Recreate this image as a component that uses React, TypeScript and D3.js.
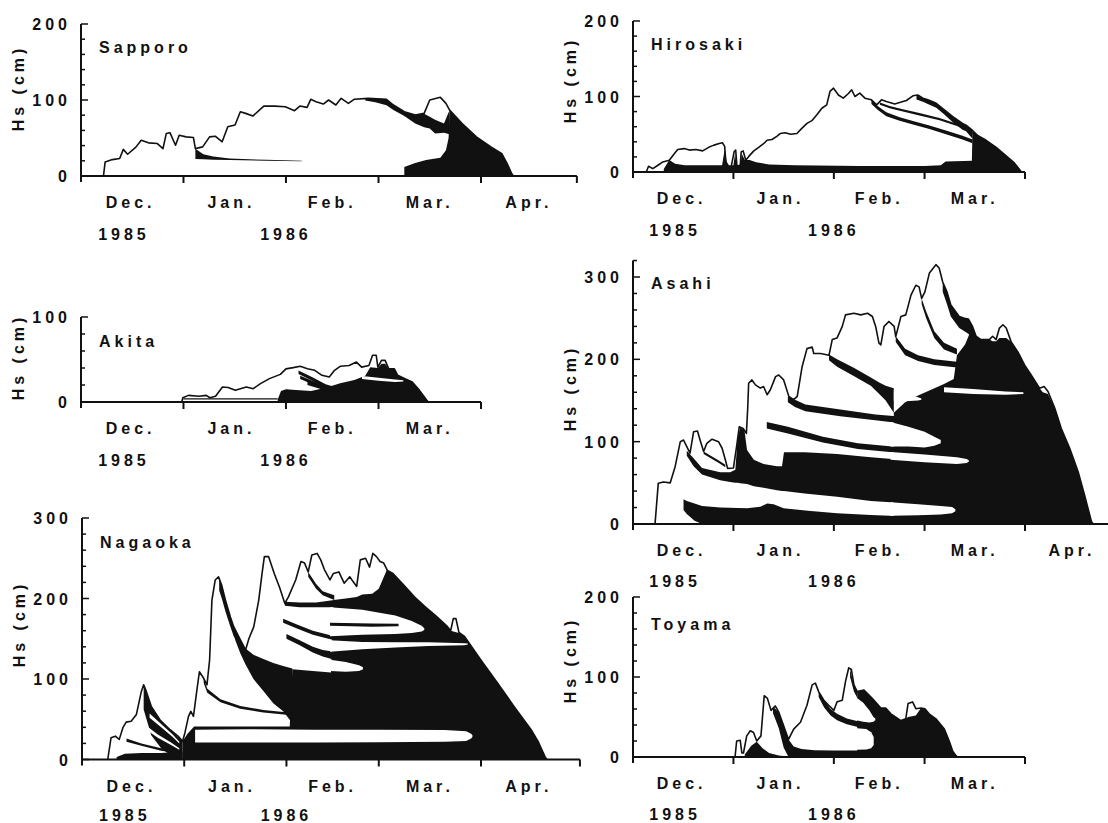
import React from 'react';
import * as d3 from 'd3';

type Pt = [number, number];
type Band = [number, number, number];

// day 0 = 1 Dec 1985, values are snow depth Hs in cm

// ---------- Sapporo ----------
const sapporoDepth: Pt[] = [[6.8,0],[7.3,18.5],[9.5,21.6],[11.7,23],[12.8,35],[14.1,28.6],[16.6,38],[18.2,47],[20.4,43.6],[23.1,42.7],[24.8,36],[25.8,56],[26.9,57],[28.6,40.5],[29.7,53.7],[31.8,51.5],[34,50.7],[34.6,36],[36.8,38.3],[38.9,51.5],[40.6,52.4],[42.7,45],[44.4,64.8],[46.6,67],[48.2,84.6],[49.8,82.4],[52,78.9],[55.3,92],[58.6,92],[61.8,91.2],[64.6,86],[66.2,92],[68.4,90.3],[69.5,100.9],[71.1,97.8],[73.3,94.7],[74.9,100],[77.1,93.4],[78.7,102.2],[80.9,95.6],[82.6,100.9],[86.9,102.2],[92.4,100.9],[94.5,93.4],[97.8,84.6],[101.1,80.2],[103.8,82.4],[105.5,100],[108.7,103.5],[110.4,95.6],[111.5,86.8],[115.3,69],[119.6,51.5],[124,38.3],[127.3,29.5],[128.9,16.3],[130.3,3],[130.8,0]];
const sapporoWedge: Band[] = [[34.6,22.5,36],[37,22,28.5],[40,21.5,25.5],[45,21,23],[56,20,21.3],[66.8,19.5,20]];
const sapporoUpper: Band[] = [[86,99.5,102.2],[89,97,101.5],[92.4,93,100.9],[94.5,87,93.4],[97.8,79,84.6],[101.1,69,80.2],[103.8,64,82],[105.5,62.6,78],[107.1,56,74],[109.8,57,69],[111.5,55,86.8]];
const sapporoMelt: Band[] = [[97.8,0,12],[101.1,0,17],[104.4,0,21],[108.7,0,24],[110.4,0,34],[111.2,0,50],[111.5,0,86.8],[115.3,0,69],[119.6,0,51.5],[124,0,38.3],[127.3,0,29.5],[128.9,0,16.3],[130.3,0,3],[130.8,0,0]];

// ---------- Hirosaki ----------
const hirosakiDepth: Pt[] = [[4.1,0],[4.8,7.6],[6.1,4.4],[7.7,8.9],[9.2,13.3],[11.2,15.6],[12.8,24.4],[13.8,29.8],[15.8,31],[17.4,29],[19.4,29.8],[21.5,28],[23.5,33],[25,35.6],[26.6,37.8],[27.6,38.7],[28.3,34],[28.7,11],[29.3,2],[30.2,4.4],[31.2,26.7],[31.7,29],[32.2,2],[33,3],[33.4,26.7],[34,28],[34.8,15.6],[35.8,21],[37.3,28],[38.9,33],[40.4,37.8],[41.4,42],[42.9,43],[44.5,47.6],[45.5,51],[47,52],[48.6,50],[50.6,51],[52.1,57.8],[53.7,64.4],[55.2,68],[56.7,75.6],[58.3,84.4],[59.8,88.9],[60.8,106.7],[61.9,111],[63.4,102],[64.9,97.8],[66.5,104],[67.5,108.9],[68.5,100],[70,104.4],[71.6,97.8],[73.6,95.6],[75.2,88.9],[76.7,95.6],[78.2,93.3],[80.8,90.2],[82.3,92],[84.4,94.7],[86.4,100.9],[87.9,102],[89.5,97.8],[91,95.6],[93.6,91],[96.1,82.2],[98.7,73.3],[101.7,64.4],[102.8,62],[104.8,55],[106.5,48],[109,42],[112,33],[115,22],[117.7,12],[119.9,0]];
const hirosakiBase: Band[] = [[9.5,0,4],[11.2,0,16],[13,0,11],[16,0,9],[27.5,0,9],[28.3,0,30],[28.9,0,14],[29.6,0,9],[31,0,9],[31.5,0,25],[32,0,9],[33.2,0,10],[33.6,0,24],[34.5,0,16],[36,0,16],[38,0,13],[42,0,10],[50,0,9],[70,0,8],[90,0,8],[95,0,9],[96.5,0,14],[104.8,0,15]];
const hirosakiMelt: Band[] = [[104.6,0,15],[104.8,0,55],[106.5,0,48],[109,0,42],[112,0,33],[115,0,22],[117.7,0,12],[119.9,0,0]];
const hirosakiTopBand: Band[] = [[87.5,96,102],[89.5,93,97.8],[91,90,95.6],[93.6,85,91],[96.1,76,82.2],[98.7,66,73.3],[101.7,56,64.4],[102.8,54,62],[104.8,44,55]];
const hirosakiLineA: Band[] = [[73.6,90,95.6],[75.6,82,87],[78.2,74,79],[82.3,68,72.5],[86.4,63,67.5],[91.5,57,61.5],[96.6,50,55],[101.7,43,48],[104.8,38,43]];
const hirosakiLineB: Band[] = [[76.2,89,92],[79.2,84.5,87.5],[83.3,80,83],[88.4,75,78],[94.6,68.5,71.5],[100.7,60,63],[104.8,50,53]];

// ---------- Akita ----------
const akitaDepth: Pt[] = [[30.5,0],[30.8,5],[32.5,7.8],[35.7,6.7],[37.9,7.8],[39,5],[40.7,6.7],[42.8,17.6],[44.5,17],[46.7,13.7],[50,17.6],[52.1,15.7],[54.3,21.6],[57,27.5],[60.3,32.5],[62,39],[64.2,40.4],[66.3,42],[68.5,39.2],[70.7,37.3],[72.9,31.4],[75.1,29.4],[76.7,37.3],[78.4,42],[81.1,43],[83.3,47],[84.9,41],[87.1,43],[88.2,55],[89.3,55],[89.8,41],[90.9,49],[92,49],[93.1,39],[94.8,39],[95.8,31.4],[98,27.5],[100.2,23.5],[102.4,13.7],[104.6,2],[105.1,0]];
const akitaMass: Band[] = [[59.5,0,3],[60.5,0,13],[62,0,15],[65,0,14],[69.6,0,13],[73,0,16],[75,0,18],[78.4,0,22],[82.7,0,26],[86,0,31],[87.5,0,41],[89.8,0,40],[90.9,0,45],[92,0,45],[93.1,0,39],[94.8,0,39],[95.8,0,31.4],[98,0,27.5],[100.2,0,23.5],[102.4,0,13.7],[104.6,0,2],[105.1,0,0]];
const akitaFinger: Band[] = [[85,27,30.5],[90,25,28.5],[95,23.5,26.5],[97.5,24,25.5]];
const akitaLine1: Band[] = [[65.8,33,37],[70,25,29],[74,17,21],[78.4,12,16]];
const akitaLine2: Band[] = [[66.3,27,31],[70,21,25],[74,15,19],[77.8,10,14]];
const akitaLine3: Band[] = [[68.5,20,24],[72,16,20],[75,12,16],[77.3,9,13]];
const akitaGround: Band[] = [[31,3,4.5],[59.5,3,4.5]];

// ---------- Asahi ----------
const asahiDepth: Pt[] = [[6.8,0],[7.8,49.4],[9.4,51],[11.5,50],[13,69.6],[14.6,100],[15.6,102],[16.6,94],[17.6,86],[18.7,112],[19.9,113],[20.7,102],[21.8,88],[22.8,98],[24.4,103],[26.4,100],[27.5,92],[28.5,78],[29.2,67.6],[31,68],[32,95],[32.8,118],[34,116],[35,110],[35.4,140],[35.7,171],[36.7,175],[37.8,169],[39.3,165],[40.3,167],[41.4,157],[42.4,163],[44,179],[45,181],[46.5,175],[48.1,155],[49.6,151],[50.7,155],[52.2,191],[53.7,213],[55.3,215],[55.8,207],[57.9,207],[60.5,205],[61.5,224],[63,226],[64.6,240],[65.6,254],[68.2,256],[70.3,254],[72.4,256],[73.9,252],[74.9,240],[75.9,220],[76.5,217.5],[77.5,240],[79,246],[80.6,240],[81.1,227.6],[82.7,252],[84.2,254],[85.8,278],[87.3,290],[88.3,288],[89.1,274],[90.1,282],[91.5,305],[93.5,315],[94.5,311],[95.6,294],[96.9,282],[98.1,266],[100.7,252],[102.3,250],[103.5,249],[104.8,240],[105.9,228],[107.4,224],[110,224],[111,228],[112.1,224],[113.1,238],[114.2,242],[115.2,238],[116.7,221.5],[118.8,209],[120.9,193],[122.9,181],[125.5,165],[126.9,167],[128.1,161],[130.2,140.6],[132.2,116],[134.8,92],[137.4,63.5],[139.4,35],[141.5,3],[142,0]];
const asahiBottom: Band[] = [[15.6,17,30],[16.6,12,28],[19,4,25],[21.3,0,22],[27,0,20],[35.2,0,19],[39.3,0,21],[41.4,0,25],[43.4,0,24],[46.5,0,19],[54,0,16],[63,0,13],[73.4,0,11],[85,0,9],[100,0,8]];
const asahiBand2: Band[] = [[16.6,83,89],[18.7,70,80],[21.3,60,68],[26.9,53,63],[30,51,63],[31.6,50,66],[32.3,50,105],[33.1,49.5,117],[34.4,49,114],[35.2,48.5,90],[37.3,46,78],[40.3,44,73],[44.4,41,70],[46,40,70],[46.6,40,87],[53,37,87],[63,33,85],[73.4,28,81],[85.6,25,77],[99.2,21,73],[103,21,72]];
const asahiBubble: Band[] = [[21.8,85,88],[24,80,83],[26.5,74,77],[28.5,69,72]];
const asahiLine2: Band[] = [[41.3,116,124],[47.8,110,118],[58.6,99,106],[69.4,91,98],[80,87,94],[90,84,91]];
const asahiLineJan: Band[] = [[47.8,148,155],[50,142,151],[53.2,137,145],[64,131,139],[74.8,126,133],[81.3,123,131]];
const asahiLineFebA: Band[] = [[60.5,199,206],[63,191,200],[68,180,190],[73.4,168,178],[76,158,172],[78,150,168],[80.5,135,165]];
const asahiLineFebB: Band[] = [[81.1,221,228],[84,205,213],[88,198,205],[93,193,200],[100,190,197]];
const asahiLineMar: Band[] = [[89.1,267,274],[90.5,250,258],[93,226,234],[96,212,220],[100,206,213]];
const asahiFlank: Band[] = [[95.6,282,294],[97,266,282],[98.1,252,266],[100.7,238,252],[102.3,234,250],[103.5,231,249],[104.8,225,240]];
const asahiMass: Band[] = [[80.5,0,135],[84,0,148],[88,0,156],[92,0,163],[96,0,170],[99,0,176],[100,0,205],[102.5,0,218],[104.8,0,240],[105.9,0,228],[107.4,0,224],[110,0,224],[111,0,222],[112.1,0,222],[113.1,0,226],[115.2,0,226],[116.7,0,221.5],[118.8,0,209],[120.9,0,193],[122.9,0,181],[125.5,0,165],[126.5,0,160],[128.1,0,158],[130.2,0,140.6],[132.2,0,116],[134.8,0,92],[137.4,0,63.5],[139.4,0,35],[141.5,0,3],[142,0,0]];
const asahiF1: Band[] = [[79.5,10,26.5],[88,10.5,24],[95,11.5,22],[98.5,13,20.5],[99.5,15.5,18]];
const asahiF2: Band[] = [[79.5,78,87.5],[90,75,84.5],[100,73,81],[103,74,79],[103.7,76,77]];
const asahiF3: Band[] = [[79.5,94,124],[85,94,118],[90,93,112],[93,95,106],[95,98,102]];
const asahiF4: Band[] = [[80.5,150,162],[84,149,158],[88,150,154],[89,151,152.5]];
const asahiF5: Band[] = [[96,160,166],[105,158,164],[115,157,161],[120.5,158,160]];

// ---------- Nagaoka ----------
const nagaokaDepth: Pt[] = [[7.8,0],[8.8,26.9],[10.1,29],[11.3,25],[12.4,39.5],[13.4,46.4],[14.9,47.6],[16.5,56],[18,84.6],[18.7,92.8],[19.5,84.6],[21,66],[23.6,49.4],[26.7,37],[29.2,28.7],[30.5,22.6],[31.2,33],[32.3,53.6],[33,59.8],[33.8,53.6],[34.8,85],[35.6,109],[36.9,100.9],[37.9,92.8],[38.7,123.8],[39.4,198],[40.4,223],[41.4,227],[42.4,216],[43.5,198],[45,177],[46,165],[48.1,148],[49.6,136],[50.6,150],[52.1,165],[53.6,198],[54.6,231],[55.3,252],[56.6,252],[58.3,231],[59.9,214],[61.5,194],[62.6,202],[64.8,223],[66.4,246],[67.5,244],[68.6,233],[69.7,254],[71.3,256],[72.4,248],[73.5,236],[75.2,223],[76.2,231],[77.9,233],[79.5,219],[81.2,227],[82.2,221],[83.3,215],[84.4,248],[86,250],[87.2,239],[88.2,256],[89.3,252],[90.4,246],[91.5,244],[92.6,235],[94.3,231],[97.5,217],[100.8,202],[104,190],[107.4,178],[110.6,166],[111.8,160],[112.6,175],[113.4,175],[114.3,158],[116,153],[120.9,124],[126,95],[131,66],[136.2,37],[138.3,22.6],[140.4,3.5],[141,0]];
const nagaokaDecWedge: Band[] = [[18.7,62,92.8],[21,30,66],[24,14,48],[27,5,36],[30.5,0,22.6]];
const nagaokaDecWhite1: Band[] = [[20.5,52,57],[24,40,44],[27.5,28,31],[29.5,20,22]];
const nagaokaDecWhite2: Band[] = [[19.5,37,42],[23,27,31],[27,18,21],[29.5,12,14]];
const nagaokaDecLine: Band[] = [[13.5,22,26],[18,17,20],[24,11,14],[30,7,10]];
const nagaokaDecBase: Band[] = [[10.5,0,3],[13,0,7],[18,0,8],[24,0,8],[30.5,0,10]];
const nagaokaMass: Band[] = [[30.5,0,22.6],[32,0,32],[34,0,41],[63,0,41],[63.8,0,112],[70,0,110],[75.5,0,108],[76.3,0,198],[80,0,200],[83.3,0,202],[85,0,205],[88,0,206],[90,0,212],[92.4,0,235],[94.3,0,231],[97.5,0,217],[100.8,0,202],[104,0,190],[107.4,0,178],[110.6,0,166],[111.8,0,160],[114.3,0,157],[116,0,153],[120.9,0,124],[126,0,95],[131,0,66],[136.2,0,37],[138.3,0,22.6],[140.4,0,3.5],[141,0,0]];
const nagaokaFlank: Band[] = [[41.6,210,226],[42.4,200,216],[43.5,184,198],[45,165,177],[46,153,165],[47,145,158]];
const nagaokaJanBlack: Band[] = [[46.5,148,160],[48,132,150],[49.6,118,138],[52,100,130],[55,85,125],[58,70,120],[61,60,116],[63.8,45,113]];
const nagaokaThin: Band[] = [[36.9,95,101],[38,83,88],[42,71,75],[48,63,66.5],[55,58.5,61.5],[63.5,55,58]];
const nagaokaFan1: Band[] = [[62,150,156],[66,142,148],[70,133,140],[73,128,136],[76.5,124,134]];
const nagaokaFan2: Band[] = [[61,170,175],[65,163,168],[70,155,160],[76.5,148,153]];
const nagaokaFan3: Band[] = [[61.5,191,196],[66,189,195],[71,189,195],[76.5,189,198]];
const nagaokaFan4: Band[] = [[68.6,227,233],[71,212,218],[73,204,209],[76.5,198,204]];
const nagaokaW1: Band[] = [[34.3,21,37],[50,21,37.5],[70,21,37],[90,21.5,37],[110,22,36.5],[116.5,23,35],[118,26,32],[118.4,28,30]];
const nagaokaF3: Band[] = [[75.2,110,124],[80,109,121],[84,110,117],[85.2,112,114.5]];
const nagaokaF4: Band[] = [[75.2,134,148],[85,137,146],[95,139,145.5],[105,141,145.5],[116,142,144.5],[117,143,144]];
const nagaokaF5: Band[] = [[75.2,153,189],[85,155,186],[95,156,179],[100,157,172],[103,159,166],[103.8,161,163]];
const nagaokaInner: Band[] = [[75.2,166,170],[88,165,169],[96,165.5,168.5]];

// ---------- Toyama ----------
const toyamaDepth: Pt[] = [[31.5,0],[32,20],[33.1,20.9],[33.6,5],[34.1,5],[35.1,26.4],[36.2,32.8],[37.2,30.6],[38.2,20],[39.5,26.4],[40.5,76.6],[41.5,73.2],[42.6,58.3],[43.9,63.8],[45,56],[46.5,39],[48,22],[49.6,34.9],[51.7,43.4],[53.7,64.7],[55.3,90.2],[56.3,92.3],[57.3,81.7],[58.9,71],[60.4,64.7],[62,58.3],[63,69],[64.6,71],[65.6,94.5],[66.6,111.5],[67.4,109.4],[68.2,90.2],[69.2,81.7],[71.3,83.8],[73.9,73.2],[76.5,61.3],[78,61.3],[79.6,54],[82.7,45.5],[84.2,47.7],[84.9,66.8],[86.3,68.9],[87.3,60.4],[88.9,61.3],[90.1,60.4],[91.4,54],[93.5,47.7],[96.1,34.9],[97.6,20],[98.7,7.2],[99.7,1.7],[100.2,0]];
const toyamaBase: Band[] = [[34.5,0,3],[36.5,0,14],[38.2,0,19],[40,0,11],[42,0,5],[45,0,2],[47,0,1]];
const toyamaFlankA: Band[] = [[43.2,55,63],[45,36,56],[46.5,12,39],[48,0,22],[49.6,0,13],[52,0,10],[56,0,8.5],[62,0,8],[70,0,8],[76,0,9],[80,0,10]];
const toyamaFlankB: Band[] = [[57.3,75,82],[59,62,71],[61,52,60],[63,46,54],[66,41,48],[70,37,44],[74,35,42],[77,34,46]];
const toyamaFlankC: Band[] = [[67,100,110],[68.2,82,90],[69.2,74,81.7]];
const toyamaMass: Band[] = [[69.2,0,81.7],[71.3,0,83.8],[73.9,0,73.2],[76.5,0,61.3],[78,0,61.3],[79.6,0,54],[82.7,0,45.5],[84.2,0,47.7],[84.9,0,50],[87.3,0,52],[88.9,0,61.3],[90.1,0,60.4],[91.4,0,54],[93.5,0,47.7],[96.1,0,34.9],[97.6,0,20],[98.7,0,7.2],[99.7,0,1.7],[100.2,0,0]];
const toyamaW1: Band[] = [[69,9,36],[72,9.5,35],[73.5,11,31],[74.3,15,25]];
const toyamaW2: Band[] = [[69,46,74],[71,44,68],[73,43,58],[74.2,44,50],[74.8,46,48]];

// axis labels
const monthStarts = [0, 31, 62, 90, 121];
const monthNames = ['Dec.', 'Jan.', 'Feb.', 'Mar.', 'Apr.'];
const monthMids = [15, 45.5, 76, 105.5, 135.5];
const yearNames = ['1985', '1986'];
const yearDays = [13, 62];

const FONT = '"Liberation Sans", Arial, Helvetica, sans-serif';
const BLACK = '#111';
const K = 'k';
const W = 'w';

const panels = [
  {name: 'Sapporo', x0: 81, xApr: 481, endDay: 150, endTick: true, y0: 176, yTop: 24, yMax: 200, axisTop: 200, months: 5, nameY: 53, hsY: 88, yearDy: 64,
    depth: sapporoDepth, layers: [[sapporoWedge, K], [sapporoUpper, K], [sapporoMelt, K]]},
  {name: 'Hirosaki', x0: 633, xApr: 1025, endDay: 121, endTick: true, y0: 172, yTop: 21, yMax: 200, axisTop: 200, months: 4, nameY: 50, hsY: 80, yearDy: 64,
    depth: hirosakiDepth, layers: [[hirosakiBase, K], [hirosakiMelt, K], [hirosakiTopBand, K], [hirosakiLineA, K], [hirosakiLineB, K]]},
  {name: 'Akita', x0: 81, xApr: 481, endDay: 121, endTick: true, y0: 402, yTop: 317, yMax: 100, axisTop: 100, months: 4, nameY: 347, hsY: 357, yearDy: 64,
    depth: akitaDepth, layers: [[akitaMass, K], [akitaFinger, W], [akitaLine1, K], [akitaLine2, K], [akitaLine3, K], [akitaGround, K]]},
  {name: 'Asahi', x0: 633, xApr: 1025, endDay: 147, endTick: false, y0: 524, yTop: 277, yMax: 300, axisTop: 320, months: 5, nameY: 289, hsY: 388, yearDy: 63,
    depth: asahiDepth, layers: [[asahiBottom, K], [asahiBand2, K], [asahiBubble, K], [asahiLine2, K], [asahiLineJan, K], [asahiLineFebA, K], [asahiLineFebB, K], [asahiLineMar, K], [asahiFlank, K], [asahiMass, K],
      [asahiF1, W], [asahiF2, W], [asahiF3, W], [asahiF4, W], [asahiF5, W]]},
  {name: 'Nagaoka', x0: 82, xApr: 481, endDay: 151, endTick: true, y0: 759.5, yTop: 518, yMax: 300, axisTop: 300, months: 5, nameY: 548, hsY: 624, yearDy: 61,
    depth: nagaokaDepth, layers: [[nagaokaDecBase, K], [nagaokaDecWedge, K], [nagaokaDecWhite1, W], [nagaokaDecWhite2, W], [nagaokaDecLine, K], [nagaokaMass, K], [nagaokaFlank, K], [nagaokaJanBlack, K], [nagaokaThin, K],
      [nagaokaFan1, K], [nagaokaFan2, K], [nagaokaFan3, K], [nagaokaFan4, K], [nagaokaW1, W], [nagaokaF3, W], [nagaokaF4, W], [nagaokaF5, W], [nagaokaInner, K]]},
  {name: 'Toyama', x0: 633, xApr: 1025, endDay: 121, endTick: true, y0: 757, yTop: 597, yMax: 200, axisTop: 200, months: 4, nameY: 630, hsY: 660, yearDy: 63,
    depth: toyamaDepth, layers: [[toyamaBase, K], [toyamaFlankA, K], [toyamaFlankB, K], [toyamaFlankC, K], [toyamaMass, K], [toyamaW1, W], [toyamaW2, W]]},
];

const textStyle = {fontFamily: FONT, fontWeight: 700, fontSize: 16, letterSpacing: 4, fill: BLACK};

const Panel = ({p}) => {
  const x = d3.scaleLinear().domain([0, 121]).range([p.x0, p.xApr]);
  const y = d3.scaleLinear().domain([0, p.yMax]).range([p.y0, p.yTop]);
  const under = d3.area<Pt>().x(d => x(d[0])).y0(y(0)).y1(d => y(d[1]));
  const top = d3.line<Pt>().x(d => x(d[0])).y(d => y(d[1]));
  const band = d3.area<Band>().x(d => x(d[0])).y0(d => y(d[1])).y1(d => y(d[2]));
  const yTicks = d3.range(0, p.axisTop + 1, 20);
  const xTicks = monthStarts.filter(d => d > 0 && d <= p.endDay);
  if (p.endTick && p.endDay > 121) xTicks.push(p.endDay);

  return (
    <g>
      <path d={under(p.depth)} fill="#fff" />
      {p.layers.map(([data, c], i) => (
        <path key={i} d={band(data)} fill={c === K ? BLACK : '#fff'} />
      ))}
      <path d={top(p.depth)} fill="none" stroke={BLACK} strokeWidth={1.6} strokeLinejoin="round" />

      {/* axes */}
      <line x1={x(0)} x2={x(p.endDay)} y1={y(0)} y2={y(0)} stroke={BLACK} strokeWidth={2} />
      <line x1={x(0)} x2={x(0)} y1={y(p.axisTop)} y2={y(0) + 6} stroke={BLACK} strokeWidth={2} />
      {xTicks.map(t => (
        <line key={t} x1={x(t)} x2={x(t)} y1={y(0)} y2={y(0) + 7} stroke={BLACK} strokeWidth={2} />
      ))}
      {yTicks.map(t => (
        <line key={t} x1={x(0)} x2={x(0) + (t % 100 === 0 ? 7 : 4)} y1={y(t)} y2={y(t)} stroke={BLACK} strokeWidth={1.5} />
      ))}
      {yTicks.filter(t => t % 100 === 0).map(t => (
        <text key={t} x={p.x0 - 10} y={y(t) + 6} textAnchor="end" style={textStyle}>{t}</text>
      ))}

      {monthNames.slice(0, p.months).map((m, i) => (
        <text key={m} x={x(monthMids[i])} y={p.y0 + 32} textAnchor="middle" style={textStyle}>{m}</text>
      ))}
      {yearNames.map((t, i) => (
        <text key={t} x={x(yearDays[i])} y={p.y0 + p.yearDy} textAnchor="middle" style={textStyle}>{t}</text>
      ))}

      <text x={p.x0 + 18} y={p.nameY} style={textStyle}>{p.name}</text>
      <text transform={`translate(${p.x0 - 57},${p.hsY}) rotate(-90)`} textAnchor="middle" style={textStyle}>Hs (cm)</text>
    </g>
  );
};

const App = () => (
  <svg width={1108} height={823} style={{position: 'absolute', left: 0, top: 0, background: '#fff'}}>
    <rect width={1108} height={823} fill="#fff" />
    {panels.map(p => <Panel key={p.name} p={p} />)}
  </svg>
);

export default App;
